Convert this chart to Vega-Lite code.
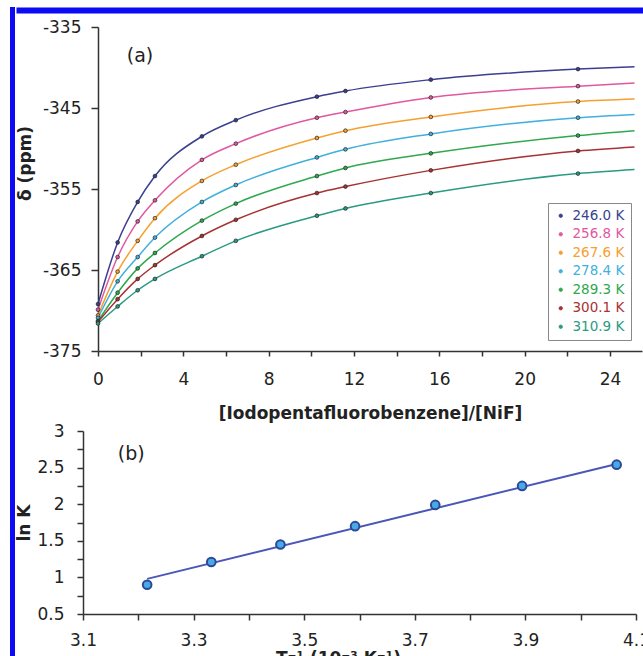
{
  "$schema": "https://vega.github.io/schema/vega-lite/v6.json",
  "background": "white",
  "padding": {"top": 7, "left": 10, "right": 0, "bottom": 0},
  "config": {
    "font": "DejaVu Sans",
    "view": {"stroke": null},
    "axis": {
      "grid": false,
      "domainColor": "#333333",
      "domainWidth": 1.5,
      "tickColor": "#333333",
      "tickWidth": 1.5,
      "labelFont": "DejaVu Sans",
      "labelFontSize": 17,
      "labelColor": "#222222",
      "labelFlush": false,
      "titleFont": "DejaVu Sans",
      "titleFontSize": 17,
      "titleFontWeight": "bold",
      "titleColor": "#222222"
    },
    "axisX": {"labelFlush": false}
  },
  "datasets": {
    "titration": [
      {"T": "246.0 K", "ratio": 0, "shift": -369.2, "marker": true},
      {"T": "246.0 K", "ratio": 0.92, "shift": -361.6, "marker": true},
      {"T": "246.0 K", "ratio": 1.86, "shift": -356.6, "marker": true},
      {"T": "246.0 K", "ratio": 2.67, "shift": -353.4, "marker": true},
      {"T": "246.0 K", "ratio": 4.87, "shift": -348.5, "marker": true},
      {"T": "246.0 K", "ratio": 6.46, "shift": -346.5, "marker": true},
      {"T": "246.0 K", "ratio": 10.26, "shift": -343.6, "marker": true},
      {"T": "246.0 K", "ratio": 11.6, "shift": -342.9, "marker": true},
      {"T": "246.0 K", "ratio": 15.6, "shift": -341.5, "marker": true},
      {"T": "246.0 K", "ratio": 22.5, "shift": -340.2, "marker": true},
      {"T": "246.0 K", "ratio": 25.15, "shift": -339.9, "marker": false},
      {"T": "256.8 K", "ratio": 0, "shift": -369.9, "marker": true},
      {"T": "256.8 K", "ratio": 0.92, "shift": -363.4, "marker": true},
      {"T": "256.8 K", "ratio": 1.86, "shift": -359.0, "marker": true},
      {"T": "256.8 K", "ratio": 2.67, "shift": -356.4, "marker": true},
      {"T": "256.8 K", "ratio": 4.87, "shift": -351.4, "marker": true},
      {"T": "256.8 K", "ratio": 6.46, "shift": -349.4, "marker": true},
      {"T": "256.8 K", "ratio": 10.26, "shift": -346.2, "marker": true},
      {"T": "256.8 K", "ratio": 11.6, "shift": -345.5, "marker": true},
      {"T": "256.8 K", "ratio": 15.6, "shift": -343.7, "marker": true},
      {"T": "256.8 K", "ratio": 22.5, "shift": -342.3, "marker": true},
      {"T": "256.8 K", "ratio": 25.15, "shift": -341.9, "marker": false},
      {"T": "267.6 K", "ratio": 0, "shift": -370.6, "marker": true},
      {"T": "267.6 K", "ratio": 0.92, "shift": -365.2, "marker": true},
      {"T": "267.6 K", "ratio": 1.86, "shift": -361.4, "marker": true},
      {"T": "267.6 K", "ratio": 2.67, "shift": -358.6, "marker": true},
      {"T": "267.6 K", "ratio": 4.87, "shift": -354.0, "marker": true},
      {"T": "267.6 K", "ratio": 6.46, "shift": -352.0, "marker": true},
      {"T": "267.6 K", "ratio": 10.26, "shift": -348.7, "marker": true},
      {"T": "267.6 K", "ratio": 11.6, "shift": -347.8, "marker": true},
      {"T": "267.6 K", "ratio": 15.6, "shift": -346.1, "marker": true},
      {"T": "267.6 K", "ratio": 22.5, "shift": -344.2, "marker": true},
      {"T": "267.6 K", "ratio": 25.15, "shift": -343.9, "marker": false},
      {"T": "278.4 K", "ratio": 0, "shift": -370.9, "marker": true},
      {"T": "278.4 K", "ratio": 0.92, "shift": -366.4, "marker": true},
      {"T": "278.4 K", "ratio": 1.86, "shift": -363.4, "marker": true},
      {"T": "278.4 K", "ratio": 2.67, "shift": -361.0, "marker": true},
      {"T": "278.4 K", "ratio": 4.87, "shift": -356.6, "marker": true},
      {"T": "278.4 K", "ratio": 6.46, "shift": -354.5, "marker": true},
      {"T": "278.4 K", "ratio": 10.26, "shift": -351.1, "marker": true},
      {"T": "278.4 K", "ratio": 11.6, "shift": -350.1, "marker": true},
      {"T": "278.4 K", "ratio": 15.6, "shift": -348.2, "marker": true},
      {"T": "278.4 K", "ratio": 22.5, "shift": -346.2, "marker": true},
      {"T": "278.4 K", "ratio": 25.15, "shift": -345.8, "marker": false},
      {"T": "289.3 K", "ratio": 0, "shift": -371.3, "marker": true},
      {"T": "289.3 K", "ratio": 0.92, "shift": -367.8, "marker": true},
      {"T": "289.3 K", "ratio": 1.86, "shift": -364.8, "marker": true},
      {"T": "289.3 K", "ratio": 2.67, "shift": -362.9, "marker": true},
      {"T": "289.3 K", "ratio": 4.87, "shift": -358.9, "marker": true},
      {"T": "289.3 K", "ratio": 6.46, "shift": -356.8, "marker": true},
      {"T": "289.3 K", "ratio": 10.26, "shift": -353.4, "marker": true},
      {"T": "289.3 K", "ratio": 11.6, "shift": -352.4, "marker": true},
      {"T": "289.3 K", "ratio": 15.6, "shift": -350.6, "marker": true},
      {"T": "289.3 K", "ratio": 22.5, "shift": -348.4, "marker": true},
      {"T": "289.3 K", "ratio": 25.15, "shift": -347.8, "marker": false},
      {"T": "300.1 K", "ratio": 0, "shift": -371.4, "marker": true},
      {"T": "300.1 K", "ratio": 0.92, "shift": -368.6, "marker": true},
      {"T": "300.1 K", "ratio": 1.86, "shift": -366.1, "marker": true},
      {"T": "300.1 K", "ratio": 2.67, "shift": -364.4, "marker": true},
      {"T": "300.1 K", "ratio": 4.87, "shift": -360.8, "marker": true},
      {"T": "300.1 K", "ratio": 6.46, "shift": -358.8, "marker": true},
      {"T": "300.1 K", "ratio": 10.26, "shift": -355.5, "marker": true},
      {"T": "300.1 K", "ratio": 11.6, "shift": -354.7, "marker": true},
      {"T": "300.1 K", "ratio": 15.6, "shift": -352.7, "marker": true},
      {"T": "300.1 K", "ratio": 22.5, "shift": -350.3, "marker": true},
      {"T": "300.1 K", "ratio": 25.15, "shift": -349.8, "marker": false},
      {"T": "310.9 K", "ratio": 0, "shift": -371.6, "marker": true},
      {"T": "310.9 K", "ratio": 0.92, "shift": -369.5, "marker": true},
      {"T": "310.9 K", "ratio": 1.86, "shift": -367.5, "marker": true},
      {"T": "310.9 K", "ratio": 2.67, "shift": -366.1, "marker": true},
      {"T": "310.9 K", "ratio": 4.87, "shift": -363.3, "marker": true},
      {"T": "310.9 K", "ratio": 6.46, "shift": -361.4, "marker": true},
      {"T": "310.9 K", "ratio": 10.26, "shift": -358.3, "marker": true},
      {"T": "310.9 K", "ratio": 11.6, "shift": -357.4, "marker": true},
      {"T": "310.9 K", "ratio": 15.6, "shift": -355.5, "marker": true},
      {"T": "310.9 K", "ratio": 22.5, "shift": -353.1, "marker": true},
      {"T": "310.9 K", "ratio": 25.15, "shift": -352.6, "marker": false}
    ],
    "vantHoff": [
      {"invT": 3.216, "lnK": 0.90},
      {"invT": 3.332, "lnK": 1.21},
      {"invT": 3.457, "lnK": 1.45},
      {"invT": 3.592, "lnK": 1.70},
      {"invT": 3.737, "lnK": 1.99},
      {"invT": 3.894, "lnK": 2.25},
      {"invT": 4.065, "lnK": 2.54}
    ],
    "vantHoffFit": [
      {"invT": 3.216, "lnK": 0.98},
      {"invT": 4.065, "lnK": 2.55}
    ]
  },
  "spacing": 0,
  "resolve": {"scale": {"color": "independent"}, "legend": {"color": "independent"}},
  "hconcat": [
    {
      "width": 5,
      "height": 700,
      "view": {"fill": "#0b0bf5", "stroke": null},
      "data": {"values": []},
      "mark": "point",
      "encoding": {}
    },
    {
      "spacing": 5,
      "resolve": {"scale": {"color": "independent", "x": "independent"}, "legend": {"color": "independent"}},
      "vconcat": [
        {
          "width": 544,
          "height": 6,
          "data": {"values": []},
          "mark": "point",
          "encoding": {
            "x": {
              "field": "frame",
              "type": "quantitative",
              "scale": {"domain": [0, 1], "range": [-82, 546]},
              "axis": {"orient": "top", "offset": -3, "domainColor": "#0b0bf5", "domainWidth": 6, "ticks": false, "labels": false, "title": null}
            }
          }
        },
        {
          "columns": 1,
          "align": "none",
          "spacing": 1,
          "resolve": {"scale": {"color": "independent"}, "legend": {"color": "independent"}},
          "concat": [
            {
              "width": 544,
              "height": 324,
              "encoding": {
                "x": {
                  "field": "ratio",
                  "type": "quantitative",
                  "scale": {"domain": [0, 25.5], "nice": false, "zero": false},
                  "axis": {
                    "values": [0, 2, 4, 6, 8, 10, 12, 14, 16, 18, 20, 22, 24],
                    "labelExpr": "datum.value % 4 == 0 ? '' + datum.value : ''",
                    "labelFlush": false,
                    "tickSize": 5,
                    "labelPadding": 15,
                    "titlePadding": 18
                  },
                  "title": "[Iodopentafluorobenzene]/[NiF]"
                },
                "y": {
                  "field": "shift",
                  "type": "quantitative",
                  "scale": {"domain": [-375, -335], "nice": false, "zero": false},
                  "axis": {
                    "values": [-375, -365, -355, -345, -335],
                    "labelExpr": "'' + datum.value",
                    "tickSize": 7,
                    "labelPadding": 10,
                    "titlePadding": 8,
                    "titleY": 136
                  },
                  "title": "δ (ppm)"
                }
              },
              "layer": [
                {
                  "data": {"name": "titration"},
                  "mark": {"type": "line", "interpolate": "monotone", "strokeWidth": 1.5},
                  "encoding": {
                    "color": {
                      "field": "T",
                      "type": "nominal",
                      "scale": {
                        "domain": ["246.0 K", "256.8 K", "267.6 K", "278.4 K", "289.3 K", "300.1 K", "310.9 K"],
                        "range": ["#3a3f8f", "#e0589f", "#f5a030", "#40b0dc", "#2fa84f", "#a83232", "#2a9a82"]
                      },
                      "legend": {
                        "title": null,
                        "orient": "bottom-right",
                        "offset": 11,
                        "padding": 6,
                        "strokeColor": "#888888",
                        "fillColor": "white",
                        "symbolType": "circle",
                        "symbolSize": 12,
                        "symbolStrokeColor": "#222222",
                        "symbolStrokeWidth": 0.8,
                        "labelFont": "DejaVu Sans",
                        "labelFontSize": 13.5,
                        "labelOffset": 5,
                        "rowPadding": 3.5,
                        "labelColor": {"expr": "datum.value == '246.0 K' ? '#3a3f8f' : datum.value == '256.8 K' ? '#e0589f' : datum.value == '267.6 K' ? '#f5a030' : datum.value == '278.4 K' ? '#40b0dc' : datum.value == '289.3 K' ? '#2fa84f' : datum.value == '300.1 K' ? '#a83232' : '#2a9a82'"}
                      }
                    }
                  }
                },
                {
                  "data": {"name": "titration"},
                  "transform": [{"filter": "datum.marker"}],
                  "mark": {"type": "point", "filled": true, "size": 14, "stroke": "#222222", "strokeWidth": 0.7, "opacity": 1},
                  "encoding": {
                    "color": {"field": "T", "type": "nominal"}
                  }
                },
                {
                  "data": {"values": [{"label": "(a)", "ratio": 1.35, "shift": -338.6}]},
                  "mark": {"type": "text", "align": "left", "baseline": "middle", "fontSize": 19, "font": "DejaVu Sans", "color": "#222222"},
                  "encoding": {"text": {"field": "label"}}
                }
              ]
            },
            {
              "width": 553,
              "height": 183,
              "encoding": {
                "x": {
                  "field": "invT",
                  "type": "quantitative",
                  "scale": {"domain": [3.1, 4.1], "nice": false, "zero": false, "range": [-15, 538]},
                  "axis": {
                    "values": [3.1, 3.2, 3.3, 3.4, 3.5, 3.6, 3.7, 3.8, 3.9, 4.0, 4.1],
                    "labelExpr": "round(datum.value * 10) % 2 == 1 ? format(datum.value, '.1f') : ''",
                    "labelFlush": false,
                    "tickSize": 6,
                    "labelPadding": 12,
                    "titlePadding": 2,
                    "titleX": 240
                  },
                  "title": "T⁻¹ (10⁻³ K⁻¹)"
                },
                "y": {
                  "field": "lnK",
                  "type": "quantitative",
                  "scale": {"domain": [0.5, 3], "nice": false, "zero": false},
                  "axis": {
                    "values": [0.5, 0.75, 1, 1.25, 1.5, 1.75, 2, 2.25, 2.5, 2.75, 3],
                    "labelExpr": "round(datum.value * 4) % 2 == 0 ? format(datum.value, '~g') : ''",
                    "tickSize": 6,
                    "labelPadding": 13,
                    "titlePadding": 3,
                    "offset": 15
                  },
                  "title": "ln K"
                }
              },
              "layer": [
                {
                  "data": {"name": "vantHoffFit"},
                  "mark": {"type": "line", "color": "#4a56b8", "strokeWidth": 2},
                  "encoding": {}
                },
                {
                  "data": {"name": "vantHoff"},
                  "mark": {"type": "point", "filled": true, "size": 75, "fill": "#4aa8ea", "stroke": "#2b4a94", "strokeWidth": 2, "opacity": 1},
                  "encoding": {}
                },
                {
                  "data": {"values": [{"label": "(b)", "invT": 3.163, "lnK": 2.69}]},
                  "mark": {"type": "text", "align": "left", "baseline": "middle", "fontSize": 19, "font": "DejaVu Sans", "color": "#222222"},
                  "encoding": {"text": {"field": "label"}}
                }
              ]
            }
          ]
        }
      ]
    }
  ]
}
